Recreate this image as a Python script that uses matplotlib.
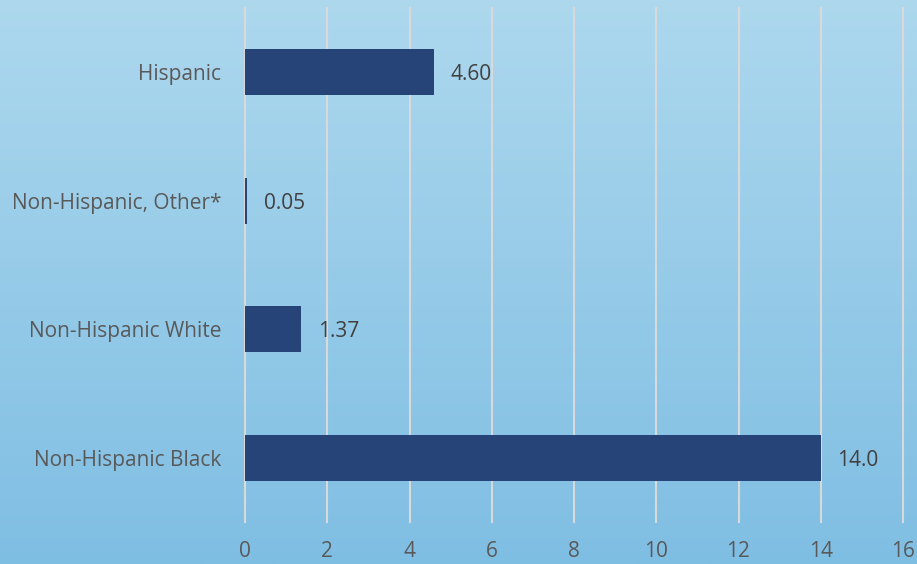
import numpy as np
import matplotlib
matplotlib.use("Agg")
import matplotlib.pyplot as plt

groups = ["Non-Hispanic Black", "Non-Hispanic White", "Non-Hispanic, Other*", "Hispanic"]
values = [14.0, 1.37, 0.05, 4.60]
value_labels = ["14.0", "1.37", "0.05", "4.60"]
xticks = [0, 2, 4, 6, 8, 10, 12, 14, 16]

plt.rcParams['font.family'] = ['Open Sans', 'DejaVu Sans']

fig = plt.figure(figsize=(9.17, 5.64), dpi=100)

# gradient background over the whole figure
bg = fig.add_axes([0, 0, 1, 1], zorder=0)
top = np.array([173, 216, 238]) / 255
bot = np.array([127, 190, 227]) / 255
t = np.linspace(0, 1, 256)[:, None]
grad = (top * (1 - t) + bot * t)[:, None, :]
bg.imshow(grad, aspect='auto', extent=[0, 1, 0, 1])
bg.axis('off')

ax = fig.add_axes([245 / 917, 1 - 522 / 564, (903 - 245) / 917, (522 - 8) / 564], zorder=1)
ax.patch.set_alpha(0)
y = np.arange(len(groups))
ax.barh(y, values, height=0.36, color='#264478', zorder=3)
for yi, v, lab in zip(y, values, value_labels):
    ax.text(v + 0.4, yi - 0.02, lab, va='center', ha='left', fontsize=15, color='#404040')

ax.set_xlim(0, 16)
ax.set_ylim(-0.5, 3.5)
ax.set_xticks(xticks)
ax.set_yticks(y)
ax.set_yticklabels(groups)
ax.grid(axis='x', color='#D9D9D9', linewidth=1.5, zorder=1)
for gl in ax.get_xgridlines():
    gl.set_clip_on(False)
ax.tick_params(axis='both', length=0, labelsize=15, labelcolor='#595959')
ax.tick_params(axis='x', pad=14)
ax.tick_params(axis='y', pad=17)
for s in ax.spines.values():
    s.set_visible(False)

fig.savefig("out.png", dpi=100)
